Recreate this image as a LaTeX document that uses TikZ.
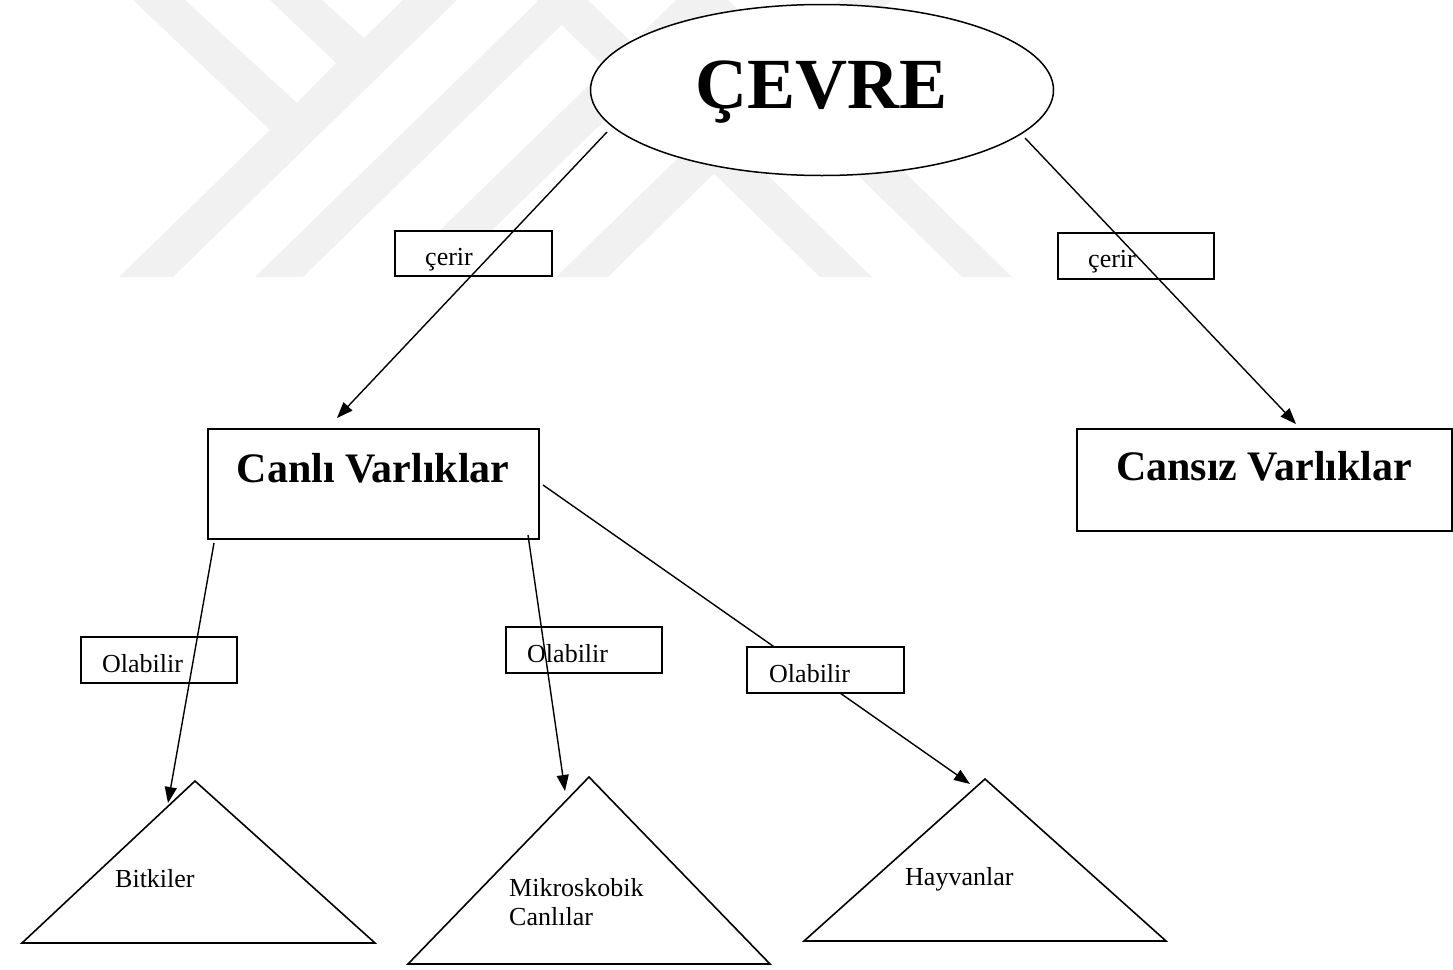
\documentclass[tikz,border=0pt]{standalone}
\usepackage{fontspec}
\setmainfont{Liberation Serif}
\usetikzlibrary{arrows.meta,shapes.geometric}
\definecolor{wm}{HTML}{F1F1F1}
\tikzset{
  boxline/.style={draw=black, line width=1.8pt, fill=white, rectangle, inner sep=0pt},
  lbl/.style={anchor=base west, inner sep=0pt, font=\fontsize{26}{30}\selectfont},
  big/.style={anchor=base, inner sep=0pt, font=\fontsize{42}{48}\selectfont\bfseries},
  conn/.style={draw=black, line width=1.4pt, -{Triangle[length=16pt,width=12pt]}},
  tri/.style={draw=black, line width=1.6pt, line join=miter},
  wmfill/.style={fill=wm, draw=none}
}
\begin{document}
\begin{tikzpicture}[x=1pt,y=-1pt]
\useasboundingbox (0,0) rectangle (1453,969);
% watermark
\fill[wmfill] (119,277) -- (173,277) -- (457,0) -- (403,0) -- (364,38) -- (322,0) -- (270,0) -- (336,63) -- (297,103) -- (185,0) -- (133,0) -- (270,130) -- cycle;
\fill[wmfill] (255,277) -- (303,277) -- (587,0) -- (539,0) -- cycle;
\fill[wmfill] (392,277) -- (444,277) -- (728,0) -- (676,0) -- cycle;
\fill[wmfill] (556,277) -- (608,277) -- (892,0) -- (840,0) -- cycle;
\fill[wmfill] (820,277) -- (872,277) -- (588,0) -- (536,0) -- cycle;
\fill[wmfill] (962,277) -- (1012,277) -- (728,0) -- (678,0) -- cycle;

% coordinates for connector ends
\coordinate (c1s) at (607,132);
\coordinate (c1e) at (337,418);
\coordinate (c2s) at (1025,138);
\coordinate (c2e) at (1296,424);
\coordinate (c3s) at (214,543);
\coordinate (c3e) at (168,803);
\coordinate (c4s) at (528,535);
\coordinate (c4e) at (565,791);
\coordinate (c5s) at (543,485);
\coordinate (c5e) at (970,784);

% connector hidden behind the third label box
\draw[conn] (c5s) -- (c5e);

% main nodes
\node[ellipse, draw=black, line width=1.5pt, fill=white, minimum width=463pt, minimum height=171pt, inner sep=0pt] (cevre) at (822,90) {};
\node[anchor=base, inner sep=0pt, font=\fontsize{72}{80}\selectfont\bfseries] (cevret) at (821.5,108) {ÇEVRE};

\node[boxline, minimum width=331pt, minimum height=110pt] (canli) at (373.5,484) {};
\node[big] (canlit) at (373,482) {Canlı Varlıklar};
\node[boxline, minimum width=375pt, minimum height=102pt] (cansiz) at (1264.5,480) {};
\node[big] (cansizt) at (1264,480) {Cansız Varlıklar};

% label boxes
\node[boxline, minimum width=157pt, minimum height=45pt] (b1) at (473.5,253.5) {};
\node[lbl] (b1t) at (425,265) {çerir};
\node[boxline, minimum width=156pt, minimum height=46pt] (b2) at (1136,256) {};
\node[lbl] (b2t) at (1088,267) {çerir};
\node[boxline, minimum width=156pt, minimum height=46pt] (b3) at (159,660) {};
\node[lbl] (b3t) at (102,672) {Olabilir};
\node[boxline, minimum width=156pt, minimum height=46pt] (b4) at (584,650) {};
\node[lbl] (b4t) at (527,662) {Olabilir};
\node[boxline, minimum width=157pt, minimum height=46pt] (b5) at (825.5,670) {};
\node[lbl] (b5t) at (769,682) {Olabilir};

% triangles
\coordinate (t1a) at (195,781);
\coordinate (t1l) at (22,943);
\coordinate (t1r) at (375,943);
\draw[tri] (t1a) -- (t1r) -- (t1l) -- cycle;
\node[lbl] (t1t) at (115,887) {Bitkiler};

\coordinate (t2a) at (589,777);
\coordinate (t2l) at (408,964);
\coordinate (t2r) at (770,964);
\draw[tri] (t2a) -- (t2r) -- (t2l) -- cycle;
\node[lbl] (t2t) at (509,896) {Mikroskobik};
\node[lbl] (t2u) at (509,925) {Canlılar};

\coordinate (t3a) at (985,779);
\coordinate (t3l) at (804,941);
\coordinate (t3r) at (1166,941);
\draw[tri] (t3a) -- (t3r) -- (t3l) -- cycle;
\node[lbl] (t3t) at (905,885) {Hayvanlar};

% connectors drawn over label boxes
\draw[conn] (c1s) -- (c1e);
\draw[conn] (c2s) -- (c2e);
\draw[conn] (c3s) -- (c3e);
\draw[conn] (c4s) -- (c4e);
\end{tikzpicture}
\end{document}
